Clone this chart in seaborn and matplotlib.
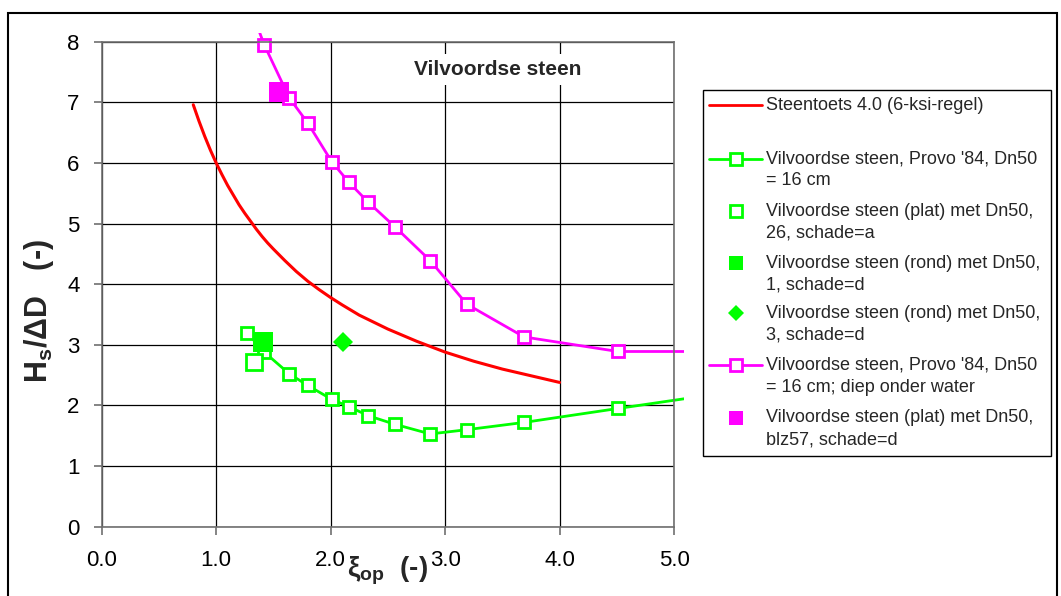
import matplotlib
matplotlib.use("Agg")
import matplotlib.pyplot as plt
from matplotlib.lines import Line2D
from matplotlib.patches import Rectangle
from matplotlib.ticker import FormatStrFormatter, MultipleLocator
from matplotlib.transforms import Bbox, TransformedBbox
import seaborn as sns

# ── Data ─────────────────────────────────────────────────────────────────────
xi_steentoets = [0.8, 0.85, 0.9, 0.95, 1.0, 1.05, 1.1, 1.15, 1.2, 1.25, 1.3,
                 1.35, 1.4, 1.45, 1.5, 1.6, 1.7, 1.8, 1.9, 2.0, 2.1, 2.25,
                 2.5, 2.75, 3.0, 3.25, 3.5, 3.75, 4.0]
hs_steentoets = [6.96, 6.69, 6.44, 6.21, 6.00, 5.81, 5.63, 5.47, 5.31, 5.17,
                 5.04, 4.91, 4.79, 4.68, 4.58, 4.39, 4.21, 4.05, 3.91, 3.78,
                 3.66, 3.49, 3.26, 3.06, 2.88, 2.73, 2.60, 2.49, 2.38]

xi_provo = [1.27, 1.42, 1.64, 1.80, 2.01, 2.16, 2.33, 2.56, 2.87, 3.19, 3.69, 4.51, 6.5]
hs_provo = [3.20, 2.88, 2.52, 2.33, 2.10, 1.98, 1.83, 1.69, 1.53, 1.60, 1.72, 1.95, 2.50]
hs_provo_diep = [8.70, 7.95, 7.07, 6.66, 6.02, 5.68, 5.35, 4.95, 4.39, 3.67, 3.13, 2.89, 2.89]

xi_plat_26, hs_plat_26 = [1.33], [2.71]
xi_rond_1, hs_rond_1 = [1.41], [3.04]
xi_rond_3, hs_rond_3 = [2.11], [3.05]
xi_plat_blz57, hs_plat_blz57 = [1.55], [7.17]

legend_labels = [
    ["Steentoets 4.0 (6-ksi-regel)"],
    ["Vilvoordse steen, Provo '84, Dn50", "= 16 cm"],
    ["Vilvoordse steen (plat) met Dn50,", "26, schade=a"],
    ["Vilvoordse steen (rond) met Dn50,", "1, schade=d"],
    ["Vilvoordse steen (rond) met Dn50,", "3, schade=d"],
    ["Vilvoordse steen, Provo '84, Dn50", "= 16 cm; diep onder water"],
    ["Vilvoordse steen (plat) met Dn50,", "blz57, schade=d"],
]

RED, GREEN, MAGENTA = "#FF0000", "#00FF00", "#FF00FF"

# ── Style ────────────────────────────────────────────────────────────────────
sns.set_theme(style="white")
plt.rcParams["font.family"] = ["Liberation Sans", "DejaVu Sans"]
plt.rcParams["mathtext.fontset"] = "custom"
plt.rcParams["mathtext.rm"] = "Liberation Sans"
plt.rcParams["mathtext.bf"] = "Liberation Sans:bold"
plt.rcParams["mathtext.it"] = "Liberation Sans:italic"

W, H = 1061, 596
fig = plt.figure(figsize=(W / 100, H / 100), dpi=100)
ax = fig.add_axes([101.7 / W, 1 - 526.7 / H, (674 - 101.7) / W, (526.7 - 41.7) / H])

# ── Series ───────────────────────────────────────────────────────────────────
open_sq = dict(marker="s", markersize=9, markerfacecolor="white", markeredgewidth=2)

sns.lineplot(x=xi_steentoets, y=hs_steentoets, ax=ax, color=RED, lw=2.2, sort=False)
sns.lineplot(x=xi_provo, y=hs_provo, ax=ax, color=GREEN, lw=2, sort=False,
             markeredgecolor=GREEN, **open_sq)
sns.lineplot(x=xi_plat_26, y=hs_plat_26, ax=ax, color=GREEN, lw=0, marker="s",
             markersize=12, markerfacecolor="white", markeredgecolor=GREEN,
             markeredgewidth=2)
sns.lineplot(x=xi_rond_1, y=hs_rond_1, ax=ax, color=GREEN, lw=0, marker="s",
             markersize=14, markerfacecolor=GREEN, markeredgecolor=GREEN,
             markeredgewidth=0)
sns.lineplot(x=xi_rond_3, y=hs_rond_3, ax=ax, color=GREEN, lw=0, marker="D",
             markersize=10, markerfacecolor=GREEN, markeredgecolor=GREEN,
             markeredgewidth=0)
sns.lineplot(x=xi_provo, y=hs_provo_diep, ax=ax, color=MAGENTA, lw=2, sort=False,
             markeredgecolor=MAGENTA, **open_sq)
sns.lineplot(x=xi_plat_blz57, y=hs_plat_blz57, ax=ax, color=MAGENTA, lw=0, marker="s",
             markersize=14, markerfacecolor=MAGENTA, markeredgecolor=MAGENTA,
             markeredgewidth=0)

# lines run a little past the plot frame, like the original
clip = TransformedBbox(Bbox([[0, 0], [1.0175, 1.0175]]), ax.transAxes)
for ln in ax.lines:
    ln.set_clip_path(None)
    ln.set_clip_box(clip)

# ── Axes ─────────────────────────────────────────────────────────────────────
ax.set_xlim(0, 5)
ax.set_ylim(0, 8)
ax.xaxis.set_major_locator(MultipleLocator(1))
ax.yaxis.set_major_locator(MultipleLocator(1))
ax.xaxis.set_major_formatter(FormatStrFormatter("%.1f"))
ax.grid(True, color="black", lw=0.9)
ax.set_axisbelow(True)
for sp in ax.spines.values():
    sp.set_color("#707070")
    sp.set_linewidth(1.2)
ax.tick_params(bottom=True, left=True, direction="out", length=6, width=1.2,
               color="#707070", labelsize=16, labelcolor="black")
ax.tick_params(axis="x", pad=11)
ax.tick_params(axis="y", pad=10)

ax.set_xlabel(r"ξ$_{\mathbf{op}}$  (-)", fontsize=20, fontweight="bold")
ax.xaxis.set_label_coords(0.5, -0.058)
ax.set_ylabel(r"H$_{\mathbf{s}}$/ΔD   (-)", fontsize=22, fontweight="bold")
ax.yaxis.set_label_coords(-0.08, 0.445)

ax.text(3.46, 7.54, "Vilvoordse steen", ha="center", va="center", fontsize=15,
        fontweight="bold", zorder=5,
        bbox=dict(facecolor="white", edgecolor="none", boxstyle="square,pad=0.3"))

# ── Legend (drawn by hand so handles sit on the first text line) ────────────
fig.add_artist(Rectangle((703 / W, 1 - 456 / H), (1051 - 703) / W, (456 - 90) / H,
                         transform=fig.transFigure, fill=False, ec="black", lw=1))
handles = [
    dict(color=RED, lw=2, marker=None),
    dict(color=GREEN, lw=2, marker="s", mfc="white", mec=GREEN, mew=2, ms=8),
    dict(color=GREEN, lw=0, marker="s", mfc="white", mec=GREEN, mew=2, ms=8),
    dict(color=GREEN, lw=0, marker="s", mfc=GREEN, mec=GREEN, mew=0, ms=10),
    dict(color=GREEN, lw=0, marker="D", mfc=GREEN, mec=GREEN, mew=0, ms=8),
    dict(color=MAGENTA, lw=2, marker="s", mfc="white", mec=MAGENTA, mew=2, ms=8),
    dict(color=MAGENTA, lw=0, marker="s", mfc=MAGENTA, mec=MAGENTA, mew=0, ms=10),
]
entry_y = [105, 159, 211, 263, 313, 365, 418]
for hy, hk, lines in zip(entry_y, handles, legend_labels):
    fy = 1 - hy / H
    if hk["lw"] > 0:
        fig.add_artist(Line2D([709 / W, 762 / W], [fy, fy], color=hk["color"],
                              lw=hk["lw"], transform=fig.transFigure))
    if hk["marker"]:
        fig.add_artist(Line2D([735.7 / W], [fy], lw=0, marker=hk["marker"],
                              mfc=hk["mfc"], mec=hk["mec"], mew=hk["mew"],
                              ms=hk["ms"], transform=fig.transFigure))
    for i, txt in enumerate(lines):
        fig.text(766 / W, 1 - (hy + 22 * i) / H, txt, ha="left", va="center",
                 fontsize=13)

# outer chart frame
fig.add_artist(Rectangle((8 / W, -0.01), (1057 - 8) / W, 1.01 - 12.7 / H,
                         transform=fig.transFigure, fill=False, ec="black", lw=1.5))

fig.savefig("out.png", dpi=100, facecolor="white")
